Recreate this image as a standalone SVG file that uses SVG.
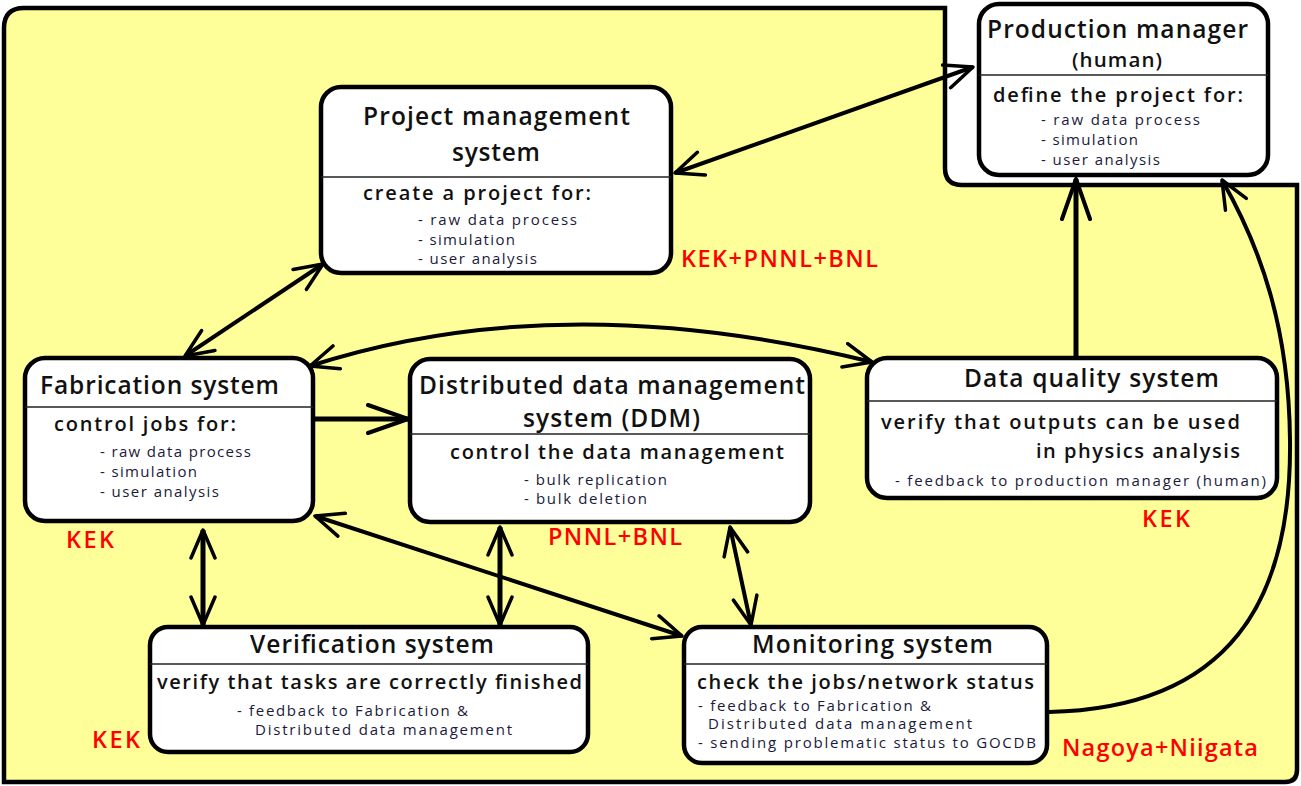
<svg xmlns="http://www.w3.org/2000/svg" width="1301" height="786" viewBox="0 0 1301 786">
<defs>
<style>
.box{fill:#fff;stroke:#000;stroke-width:4.5}
.div{stroke:#222;stroke-width:1.5}
.t{font-family:"Open Sans","Noto Sans","DejaVu Sans",sans-serif;fill:#111;}
.ti{font-size:24.5px;font-weight:600}
.hd{font-size:20px;font-weight:600}
.it{font-size:15px;fill:#1a1a3a}
.red{font-family:"Open Sans","Noto Sans",sans-serif;font-size:23.5px;font-weight:600;fill:#ff0000}
.c{fill:none;stroke:#000;stroke-width:4}
.ct{fill:none;stroke:#000;stroke-width:5}
</style>
<marker id="ah" viewBox="0 0 32 28" refX="30" refY="14" markerWidth="32" markerHeight="28" markerUnits="userSpaceOnUse" orient="auto-start-reverse">
<path d="M2,2 L30,14 L2,26" fill="none" stroke="#000" stroke-width="3.5" stroke-linejoin="round" stroke-linecap="round"/>
</marker>
<marker id="ahl" viewBox="0 0 44 32" refX="42" refY="16" markerWidth="44" markerHeight="32" markerUnits="userSpaceOnUse" orient="auto-start-reverse">
<path d="M2,2 L42,16 L2,30" fill="none" stroke="#000" stroke-width="4" stroke-linejoin="round" stroke-linecap="round"/>
</marker>
</defs>
<rect width="1301" height="786" fill="#fff"/>
<path d="M4,28 Q4,8 24,8 L945,8 L945,168 Q945,185 962,185 L1297,185 L1297,770 Q1297,782 1285,782 L4,782 Z" fill="#ffff99" stroke="#000" stroke-width="4.5"/>

<g id="connectors">
<line class="c" x1="675" y1="173" x2="973" y2="67" marker-start="url(#ah)" marker-end="url(#ah)"/>
<line class="c" x1="185" y1="356" x2="323" y2="264" marker-start="url(#ah)" marker-end="url(#ah)"/>
<line class="ct" x1="315" y1="419" x2="408" y2="419" marker-end="url(#ahl)"/>
<path class="c" d="M310,366 Q560,285 872,362" marker-start="url(#ah)" marker-end="url(#ah)"/>
<line class="ct" x1="1076" y1="358" x2="1076" y2="179" marker-end="url(#ahl)"/>
<path class="c" d="M1049,712 C1230,708 1292,600 1290,440 C1289,330 1262,250 1222,180" marker-end="url(#ah)"/>
<line class="ct" x1="203" y1="530" x2="203" y2="625" marker-start="url(#ah)" marker-end="url(#ah)"/>
<line class="ct" x1="500" y1="527" x2="500" y2="625" marker-start="url(#ah)" marker-end="url(#ah)"/>
<line class="c" x1="730" y1="527" x2="751" y2="625" marker-start="url(#ah)" marker-end="url(#ah)"/>
<line class="c" x1="315" y1="516" x2="682" y2="636" marker-start="url(#ah)" marker-end="url(#ah)"/>
</g>

<g id="production-manager">
<rect class="box" x="979" y="4" width="289" height="171" rx="20"/>
<line class="div" x1="979" y1="75" x2="1268" y2="75"/>
<text class="t ti" x="987" y="38" textLength="261" lengthAdjust="spacing">Production manager</text>
<text class="t" x="1072" y="67" font-size="20.5" font-weight="600" textLength="90" lengthAdjust="spacing">(human)</text>
<text class="t hd" x="993" y="102" textLength="250" lengthAdjust="spacing">define the project for:</text>
<text class="t it" x="1041" y="125" textLength="159" lengthAdjust="spacing">- raw data process</text>
<text class="t it" x="1041" y="145" textLength="97" lengthAdjust="spacing">- simulation</text>
<text class="t it" x="1041" y="165" textLength="119" lengthAdjust="spacing">- user analysis</text>
</g>

<g id="project-management">
<rect class="box" x="321" y="87" width="350" height="186" rx="20"/>
<line class="div" x1="321" y1="177" x2="671" y2="177"/>
<text class="t ti" x="363" y="125" textLength="267" lengthAdjust="spacing">Project management</text>
<text class="t ti" x="452" y="161" textLength="88" lengthAdjust="spacing">system</text>
<text class="t hd" x="363" y="200" textLength="228" lengthAdjust="spacing">create a project for:</text>
<text class="t it" x="418" y="225" textLength="159" lengthAdjust="spacing">- raw data process</text>
<text class="t it" x="418" y="245" textLength="97" lengthAdjust="spacing">- simulation</text>
<text class="t it" x="418" y="264" textLength="119" lengthAdjust="spacing">- user analysis</text>
<text class="red" x="681" y="267" textLength="197" lengthAdjust="spacing">KEK+PNNL+BNL</text>
</g>

<g id="fabrication">
<rect class="box" x="25" y="358" width="288" height="163" rx="20"/>
<line class="div" x1="25" y1="407" x2="313" y2="407"/>
<text class="t ti" x="40" y="394" textLength="239" lengthAdjust="spacing">Fabrication system</text>
<text class="t hd" x="54" y="431" textLength="182" lengthAdjust="spacing">control jobs for:</text>
<text class="t it" x="100" y="457" textLength="151" lengthAdjust="spacing">- raw data process</text>
<text class="t it" x="100" y="477" textLength="97" lengthAdjust="spacing">- simulation</text>
<text class="t it" x="100" y="497" textLength="119" lengthAdjust="spacing">- user analysis</text>
<text class="red" x="66" y="548" textLength="48" lengthAdjust="spacing">KEK</text>
</g>

<g id="ddm">
<rect class="box" x="410" y="359" width="400" height="163" rx="20"/>
<line class="div" x1="410" y1="434" x2="810" y2="434"/>
<text class="t ti" x="419" y="394" textLength="386" lengthAdjust="spacing">Distributed data management</text>
<text class="t ti" x="523" y="427" textLength="177" lengthAdjust="spacing">system (DDM)</text>
<text class="t hd" x="450" y="459" textLength="334" lengthAdjust="spacing">control the data management</text>
<text class="t it" x="524" y="485" textLength="143" lengthAdjust="spacing">- bulk replication</text>
<text class="t it" x="524" y="504" textLength="123" lengthAdjust="spacing">- bulk deletion</text>
<text class="red" x="548" y="545" textLength="134" lengthAdjust="spacing">PNNL+BNL</text>
</g>

<g id="data-quality">
<rect class="box" x="867" y="358" width="410" height="140" rx="20"/>
<line class="div" x1="867" y1="401" x2="1277" y2="401"/>
<text class="t ti" x="964" y="387" textLength="255" lengthAdjust="spacing">Data quality system</text>
<text class="t hd" x="881" y="429" textLength="359" lengthAdjust="spacing">verify that outputs can be used</text>
<text class="t hd" x="1036" y="458" textLength="204" lengthAdjust="spacing">in physics analysis</text>
<text class="t it" x="895" y="486" textLength="371" lengthAdjust="spacing">- feedback to production manager (human)</text>
<text class="red" x="1142" y="527" textLength="48" lengthAdjust="spacing">KEK</text>
</g>

<g id="verification">
<rect class="box" x="150" y="627" width="438" height="125" rx="18"/>
<line class="div" x1="150" y1="664" x2="588" y2="664"/>
<text class="t ti" x="250" y="653" textLength="244" lengthAdjust="spacing">Verification system</text>
<text class="t hd" x="157" y="689" textLength="425" lengthAdjust="spacing">verify that tasks are correctly finished</text>
<text class="t it" x="237" y="716" textLength="231" lengthAdjust="spacing">- feedback to Fabrication &amp;</text>
<text class="t it" x="255" y="735" textLength="257" lengthAdjust="spacing">Distributed data management</text>
<text class="red" x="92" y="748" textLength="48" lengthAdjust="spacing">KEK</text>
</g>

<g id="monitoring">
<rect class="box" x="684" y="627" width="363" height="136" rx="18"/>
<line class="div" x1="684" y1="664" x2="1047" y2="664"/>
<text class="t ti" x="752" y="653" textLength="241" lengthAdjust="spacing">Monitoring system</text>
<text class="t hd" x="697" y="689" textLength="337" lengthAdjust="spacing">check the jobs/network status</text>
<text class="t it" x="698" y="711" textLength="233" lengthAdjust="spacing">- feedback to Fabrication &amp;</text>
<text class="t it" x="708" y="729" textLength="264" lengthAdjust="spacing">Distributed data management</text>
<text class="t it" x="698" y="748" textLength="338" lengthAdjust="spacing">- sending problematic status to GOCDB</text>
<text class="red" x="1062" y="756" textLength="196" lengthAdjust="spacing">Nagoya+Niigata</text>
</g>
</svg>
